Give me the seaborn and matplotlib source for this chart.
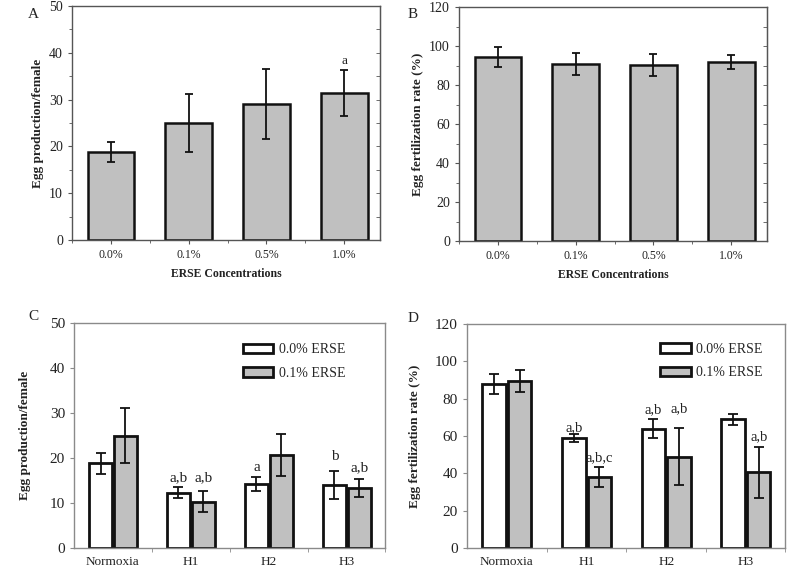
import numpy as np
import pandas as pd
import matplotlib
matplotlib.use("Agg")
import matplotlib.pyplot as plt
import seaborn as sns
from matplotlib.patches import Patch
from matplotlib.ticker import MultipleLocator

# ---------------- data ----------------
conc_labels = ["0.0%", "0.1%", "0.5%", "1.0%"]
egg_prod_A = [18.8, 25.0, 29.1, 31.4]
egg_prod_A_err = [2.2, 6.2, 7.5, 5.0]
fert_B = [94.2, 90.9, 90.3, 91.8]
fert_B_err = [5.1, 5.7, 5.5, 3.8]
sig_A = ["", "", "", "a"]
sig_A_y = [None, None, None, 38.3]

groups = ["Normoxia", "H1", "H2", "H3"]
treatments = ["0.0% ERSE", "0.1% ERSE"]
egg_C_ctrl = [18.8, 12.3, 14.2, 14.1]
egg_C_ctrl_err = [2.3, 1.2, 1.6, 3.1]
egg_C_ersE = [25.0, 10.3, 20.6, 13.4]
egg_C_ersE_err = [6.2, 2.3, 4.7, 2.0]
sig_C_ctrl = ["", "a,b", "a", "b"]
sig_C_ctrl_y = [None, 15.6, 17.8, 20.4]
sig_C_ersE = ["", "a,b", "", "a,b"]
sig_C_ersE_y = [None, 15.6, None, 17.8]

fert_D_ctrl = [87.8, 58.8, 64.0, 69.0]
fert_D_ctrl_err = [5.5, 2.2, 5.0, 3.0]
fert_D_ersE = [89.4, 38.0, 48.8, 40.5]
fert_D_ersE_err = [6.0, 5.2, 15.3, 13.5]
sig_D_ctrl = ["", "a,b", "a,b", ""]
sig_D_ctrl_y = [None, 64.6, 74.2, None]
sig_D_ersE = ["", "a,b,c", "a,b", "a,b"]
sig_D_ersE_y = [None, 48.5, 74.8, 59.8]

# ---------------- style ----------------
sns.set_style("ticks")
plt.rcParams["font.family"] = ["Liberation Serif", "DejaVu Serif"]
GRAY = "#c0c0c0"
TXT = "#222222"

fig = plt.figure(figsize=(8, 5.88), dpi=100)
W, H = 800, 588


def ax_at(l, t, r, b):
    return fig.add_axes([l / W, 1 - b / H, (r - l) / W, (b - t) / H])


axA = ax_at(72, 6, 380, 240)
axB = ax_at(459, 7, 767, 241)
axC = ax_at(74, 323, 385, 548)
axD = ax_at(467, 324, 785, 548)


def style_top(ax, ymax, ystep, ylabel):
    ax.set_ylim(0, ymax)
    ax.set_xlim(-0.5, 3.46)
    ax.yaxis.set_major_locator(MultipleLocator(ystep))
    ax.yaxis.set_minor_locator(MultipleLocator(ystep / 2))
    ax.set_xticks(range(4))
    ax.set_xticks([-0.5, 0.5, 1.5, 2.5], minor=True)
    for s in ax.spines.values():
        s.set_visible(True)
        s.set_color("#555555")
        s.set_linewidth(1.0)
    ax.tick_params(axis="both", which="major", direction="out", length=3,
                   width=0.8, color="#555555", labelsize=10, labelcolor=TXT,
                   top=False, right=False)
    ax.tick_params(axis="x", which="major", labelsize=8.5)
    ax.tick_params(axis="both", which="minor", direction="out", length=2,
                   width=0.6, color="#555555", top=False, right=False)
    sec = ax.secondary_yaxis("right")
    sec.yaxis.set_major_locator(MultipleLocator(ystep / 2))
    sec.tick_params(direction="in", length=3, width=0.6, color="#555555",
                    labelright=False)
    sec.spines["right"].set_color("#555555")
    ax.set_xlabel("ERSE Concentrations", fontsize=8.5, fontweight="bold",
                  color=TXT)
    ax.xaxis.set_label_coords(0.5, -0.12)
    ax.set_ylabel(ylabel, fontsize=9.5, fontweight="bold", color=TXT)


def style_bottom(ax, ymax, ystep, ylabel, labx):
    ax.set_ylim(0, ymax)
    ax.set_xlim(-0.5, 3.49)
    ax.yaxis.set_major_locator(MultipleLocator(ystep))
    for s in ax.spines.values():
        s.set_visible(True)
        s.set_color("#8a8a8a")
        s.set_linewidth(1.0)
    ax.tick_params(axis="both", which="major", direction="out", length=3,
                   width=0.8, color="#8a8a8a", labelsize=11, labelcolor=TXT)
    ax.set_xticks(range(4))
    ax.tick_params(axis="x", length=0, pad=6, labelsize=9.5)
    ax.set_xticks([0.5, 1.5, 2.5, 3.49], minor=True)
    ax.tick_params(axis="x", which="minor", direction="out", length=3,
                   color="#8a8a8a")
    ax.set_xlabel("")
    ax.set_ylabel(ylabel, fontsize=9.5, fontweight="bold", color=TXT)
    ax.yaxis.set_label_coords(labx, 0.5)


# ---------------- A & B ----------------
for ax, vals, errs, ymax, ystep, ylab, labx in [
    (axA, egg_prod_A, egg_prod_A_err, 50, 10, "Egg production/female", -0.091),
    (axB, fert_B, fert_B_err, 120, 20, "Egg fertilization rate (%)", -0.114),
]:
    dfa = pd.DataFrame({"conc": conc_labels, "val": vals})
    sns.barplot(data=dfa, x="conc", y="val", color=GRAY, edgecolor="#111111",
                linewidth=1.8, width=0.6, saturation=1, errorbar=None, ax=ax)
    xs = [p.get_x() + p.get_width() / 2 for p in ax.containers[0]]
    ax.errorbar(xs, vals, yerr=errs, fmt="none", ecolor="#111111",
                elinewidth=1.3, capsize=3, capthick=1.3, zorder=5)
    style_top(ax, ymax, ystep, ylab)
    ax.yaxis.set_label_coords(labx, 0.5)

xsA = [p.get_x() + p.get_width() / 2 for p in axA.containers[0]]
for x, s, y in zip(xsA, sig_A, sig_A_y):
    if s:
        axA.text(x, y, s, ha="center", va="center", fontsize=9.5, color=TXT)

# ---------------- C & D ----------------
for ax, c, ce, e, ee, sc, scy, se, sey, ymax, ystep, ylab, labx, legx, legy, sfs in [
    (axC, egg_C_ctrl, egg_C_ctrl_err, egg_C_ersE, egg_C_ersE_err,
     sig_C_ctrl, sig_C_ctrl_y, sig_C_ersE, sig_C_ersE_y, 50, 10,
     "Egg production/female", -0.138, 0.543, 0.91, 11),
    (axD, fert_D_ctrl, fert_D_ctrl_err, fert_D_ersE, fert_D_ersE_err,
     sig_D_ctrl, sig_D_ctrl_y, sig_D_ersE, sig_D_ersE_y, 120, 20,
     "Egg fertilization rate (%)", -0.145, 0.607, 0.915, 10.5),
]:
    df = pd.DataFrame({
        "group": groups * 2,
        "treat": [treatments[0]] * 4 + [treatments[1]] * 4,
        "val": c + e,
    })
    sns.barplot(data=df, x="group", y="val", hue="treat",
                palette={treatments[0]: "white", treatments[1]: GRAY},
                edgecolor="#111111", linewidth=2.0, width=0.64, gap=0.08,
                saturation=1, errorbar=None, legend=False, ax=ax)
    for cont, vals, errs, sig, sigy in [(ax.containers[0], c, ce, sc, scy),
                                        (ax.containers[1], e, ee, se, sey)]:
        xs = [p.get_x() + p.get_width() / 2 for p in cont]
        ax.errorbar(xs, vals, yerr=errs, fmt="none", ecolor="#111111",
                    elinewidth=1.3, capsize=3.5, capthick=1.3, zorder=5)
        for x, s, y in zip(xs, sig, sigy):
            if s:
                ax.text(x, y, s, ha="center", va="center", fontsize=sfs,
                        color=TXT)
    style_bottom(ax, ymax, ystep, ylab, labx)
    handles = [Patch(facecolor="white", edgecolor="#111111", linewidth=2),
               Patch(facecolor=GRAY, edgecolor="#111111", linewidth=2)]
    ax.legend(handles, treatments, loc="upper left",
              bbox_to_anchor=(legx, legy), frameon=False, fontsize=10,
              handlelength=2.2, handleheight=0.7, labelspacing=0.75,
              handletextpad=0.4, borderpad=0, borderaxespad=0)

# panel letters
for lab, x, y in [("A", 33, 15), ("B", 413, 15), ("C", 33, 316),
                  ("D", 413, 318)]:
    fig.text(x / W, 1 - y / H, lab, fontsize=11, ha="center", va="center",
             color=TXT)

fig.savefig("out.png", dpi=100)
